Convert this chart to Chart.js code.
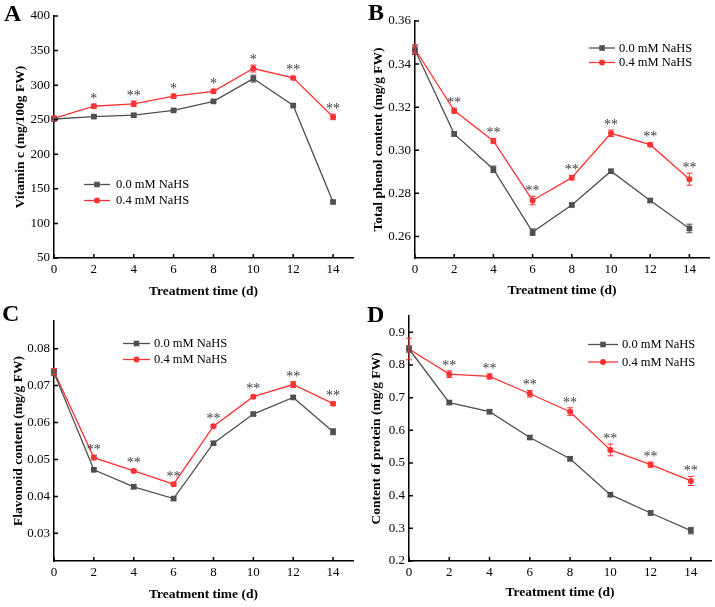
<!DOCTYPE html>
<html><head><meta charset="utf-8">
<script src="https://cdn.jsdelivr.net/npm/chart.js@4.4.1/dist/chart.umd.min.js"></script>
<style>
html,body{margin:0;padding:0;background:#fff;}
#wrap{position:relative;width:715px;height:607px;background:#fff;}
canvas{position:absolute;}
</style></head><body>
<div id="wrap">
<canvas id="cA" width="357" height="300" style="left:0px;top:0px"></canvas>
<canvas id="cB" width="358" height="300" style="left:357px;top:0px"></canvas>
<canvas id="cC" width="357" height="307" style="left:0px;top:300px"></canvas>
<canvas id="cD" width="358" height="307" style="left:357px;top:300px"></canvas>
</div>
<script>
// ---------- DATA ----------
const days = [0, 2, 4, 6, 8, 10, 12, 14];
const xTickLabels = ['0', '2', '4', '6', '8', '10', '12', '14'];
const seriesNames = ['0.0 mM NaHS', '0.4 mM NaHS'];

// A: Vitamin c
const vitControl = [251, 254.5, 256.5, 263.5, 276.5, 309.5, 270.5, 131];
const vitTreated = [252, 269.5, 273, 284, 291, 324, 310.5, 254];
const vitControlErr = [2, 2, 2, 2, 2, 5, 2, 2];
const vitTreatedErr = [3, 3, 4, 3, 3, 5, 2, 4];
const vitStars = ['', '*', '**', '*', '*', '*', '**', '**'];
const vitTicks = ['50', '100', '150', '200', '250', '300', '350', '400'];

// B: Total phenol
const phenolControl = [0.3465, 0.3076, 0.2912, 0.2620, 0.2746, 0.2903, 0.2767, 0.2637];
const phenolTreated = [0.3470, 0.3184, 0.3043, 0.2767, 0.2873, 0.3079, 0.3026, 0.2866];
const phenolControlErr = [0.002, 0.001, 0.0015, 0.0015, 0.0008, 0.0008, 0.0008, 0.002];
const phenolTreatedErr = [0.002, 0.0012, 0.0012, 0.002, 0.001, 0.0015, 0.0008, 0.0028];
const phenolStars = ['', '**', '**', '**', '**', '**', '**', '**'];
const phenolTicks = ['0.26', '0.28', '0.30', '0.32', '0.34', '0.36'];

// C: Flavonoid
const flavControl = [0.0735, 0.0472, 0.0426, 0.0394, 0.0544, 0.0623, 0.0668, 0.0575];
const flavTreated = [0.0738, 0.0505, 0.0469, 0.0433, 0.0590, 0.0670, 0.0703, 0.0651];
const flavControlErr = [0.0008, 0.0004, 0.0005, 0.0004, 0.0004, 0.0004, 0.0004, 0.0008];
const flavTreatedErr = [0.0008, 0.0006, 0.0004, 0.0004, 0.0004, 0.0004, 0.0008, 0.0004];
const flavStars = ['', '**', '**', '**', '**', '**', '**', '**'];
const flavTicks = ['0.03', '0.04', '0.05', '0.06', '0.07', '0.08'];

// D: Protein
const protControl = [0.849, 0.685, 0.657, 0.578, 0.513, 0.403, 0.347, 0.293];
const protTreated = [0.849, 0.772, 0.765, 0.712, 0.657, 0.540, 0.495, 0.445];
const protControlErr = [0.01, 0.006, 0.006, 0.006, 0.006, 0.006, 0.006, 0.01];
const protTreatedErr = [0.033, 0.01, 0.008, 0.01, 0.012, 0.018, 0.008, 0.014];
const protStars = ['', '**', '**', '**', '**', '**', '**', '**'];
const protTicks = ['0.2', '0.3', '0.4', '0.5', '0.6', '0.7', '0.8', '0.9'];

// ---------- STYLE ----------
const GRAY = '#505050';
const RED = '#ff3333';
const FONT = "'Liberation Serif', 'Times New Roman', Times, serif";

Chart.defaults.font.family = FONT;
Chart.defaults.color = '#000';

const panels = [
  { id: 'cA', letter: 'A', letterPos: [4, 21], yTitle: 'Vitamin c (mg/100g FW)',
    control: vitControl, treated: vitTreated, errC: vitControlErr, errT: vitTreatedErr, stars: vitStars,
    ticks: vitTicks, yMin: 50, yMax: 400,
    pad: { top: 16, right: 2 }, yW: 54, xH: 42, yTitlePad: 12, xTitlePad: 0,
    legend: { x1: 84, x2: 110, tx: 116, rows: [184.5, 200.5] } },
  { id: 'cB', letter: 'B', letterPos: [11, 20], yTitle: 'Total phenol content (mg/g FW)',
    control: phenolControl, treated: phenolTreated, errC: phenolControlErr, errT: phenolTreatedErr, stars: phenolStars,
    ticks: phenolTicks, yMin: 0.25, yMax: 0.36,
    pad: { top: 21, right: 6 }, yW: 58, xH: 42, yTitlePad: 13, xTitlePad: 1.5,
    legend: { x1: 232, x2: 258, tx: 262, rows: [48, 62.5] } },
  { id: 'cC', letter: 'C', letterPos: [2, 21], yTitle: 'Flavonoid content (mg/g FW)',
    control: flavControl, treated: flavTreated, errC: flavControlErr, errT: flavTreatedErr, stars: flavStars,
    ticks: flavTicks, yMin: 0.0225, yMax: 0.0875,
    pad: { top: 21, right: 4 }, yW: 54, xH: 46, yTitlePad: 10, xTitlePad: 4,
    legend: { x1: 123, x2: 150, tx: 154, rows: [43.5, 59.5] } },
  { id: 'cD', letter: 'D', letterPos: [10, 22], yTitle: 'Content of protein (mg/g FW)',
    control: protControl, treated: protTreated, errC: protControlErr, errT: protTreatedErr, stars: protStars,
    ticks: protTicks, yMin: 0.2, yMax: 0.95,
    pad: { top: 16, right: 3 }, yW: 52, xH: 46, yTitlePad: 11, xTitlePad: 6,
    legend: { x1: 231, x2: 261, tx: 265, rows: [44.5, 62] } }
];

const deco = {
  id: 'deco',
  afterDatasetsDraw(chart, args, o) {
    const ctx = chart.ctx;
    const xs = chart.scales.x, ys = chart.scales.y;
    ctx.save();
    // error bars
    const errs = [o.errC, o.errT];
    chart.data.datasets.forEach((ds, di) => {
      ctx.strokeStyle = ds.borderColor;
      ctx.lineWidth = 1;
      ds.data.forEach((pt, i) => {
        const e = errs[di][i];
        const px = xs.getPixelForValue(pt.x);
        const t = ys.getPixelForValue(pt.y + e);
        const b = ys.getPixelForValue(pt.y - e);
        ctx.beginPath();
        ctx.moveTo(px, t); ctx.lineTo(px, b);
        ctx.moveTo(px - 3, t); ctx.lineTo(px + 3, t);
        ctx.moveTo(px - 3, b); ctx.lineTo(px + 3, b);
        ctx.stroke();
      });
    });
    // significance stars
    ctx.fillStyle = '#3a3a3a';
    ctx.font = '14px ' + FONT;
    ctx.textAlign = 'center';
    ctx.textBaseline = 'alphabetic';
    const tr = chart.data.datasets[1].data;
    o.stars.forEach((s, i) => {
      if (!s) return;
      const px = xs.getPixelForValue(tr[i].x);
      const py = ys.getPixelForValue(tr[i].y);
      const et = ys.getPixelForValue(tr[i].y + o.errT[i]);
      ctx.fillText(s, px, Math.min(py - 3.5, et - 1));
    });
    ctx.restore();
  },
  afterDraw(chart, args, o) {
    const ctx = chart.ctx;
    const xs = chart.scales.x, ys = chart.scales.y;
    const ca = chart.chartArea;
    ctx.save();
    // inward ticks
    ctx.strokeStyle = '#000';
    ctx.lineWidth = 1.5;
    ctx.beginPath();
    ys.ticks.forEach(t => {
      const py = ys.getPixelForValue(t.value);
      ctx.moveTo(ca.left, py); ctx.lineTo(ca.left + 4, py);
    });
    xs.ticks.forEach(t => {
      const px = xs.getPixelForValue(t.value);
      ctx.moveTo(px, ca.bottom); ctx.lineTo(px, ca.bottom - 4);
    });
    ctx.stroke();
    // legend
    const L = o.legend;
    chart.data.datasets.forEach((ds, di) => {
      const y = L.rows[di];
      ctx.strokeStyle = ds.borderColor;
      ctx.lineWidth = 1.3;
      ctx.beginPath(); ctx.moveTo(L.x1, y); ctx.lineTo(L.x2, y); ctx.stroke();
      const mx = (L.x1 + L.x2) / 2;
      ctx.fillStyle = ds.borderColor;
      if (ds.pointStyle === 'rect') {
        ctx.fillRect(mx - 2.8, y - 2.8, 5.6, 5.6);
      } else {
        ctx.beginPath(); ctx.arc(mx, y, 3, 0, Math.PI * 2); ctx.fill();
      }
      ctx.fillStyle = '#000';
      ctx.font = '12.5px ' + FONT;
      ctx.textAlign = 'left';
      ctx.textBaseline = 'middle';
      ctx.fillText(ds.label, L.tx, y + 0.5);
    });
    // panel letter
    ctx.fillStyle = '#000';
    ctx.font = 'bold 24px ' + FONT;
    ctx.textAlign = 'left';
    ctx.textBaseline = 'alphabetic';
    ctx.fillText(o.letter, o.letterPos[0], o.letterPos[1]);
    ctx.restore();
  }
};
Chart.register(deco);

panels.forEach(p => {
  const tickVals = p.ticks.map(Number);
  new Chart(document.getElementById(p.id), {
    type: 'line',
    data: {
      datasets: [
        { label: seriesNames[0], data: days.map((d, i) => ({ x: d, y: p.control[i] })),
          borderColor: GRAY, backgroundColor: GRAY, pointBackgroundColor: GRAY, pointBorderColor: GRAY,
          borderWidth: 1.3, pointStyle: 'rect', pointRadius: 4, pointBorderWidth: 0, tension: 0, clip: false },
        { label: seriesNames[1], data: days.map((d, i) => ({ x: d, y: p.treated[i] })),
          borderColor: RED, backgroundColor: RED, pointBackgroundColor: RED, pointBorderColor: RED,
          borderWidth: 1.3, pointStyle: 'circle', pointRadius: 3, pointBorderWidth: 0, tension: 0, clip: false }
      ]
    },
    options: {
      responsive: false,
      animation: false,
      devicePixelRatio: 1,
      layout: { padding: { top: p.pad.top, right: p.pad.right, left: 0, bottom: 0 } },
      plugins: {
        legend: { display: false },
        tooltip: { enabled: false },
        deco: { errC: p.errC, errT: p.errT, stars: p.stars, legend: p.legend, letter: p.letter, letterPos: p.letterPos }
      },
      scales: {
        x: {
          type: 'linear', min: 0, max: 15,
          afterBuildTicks: s => { s.ticks = days.map(v => ({ value: v })); },
          afterFit: s => { s.height = p.xH; },
          grid: { display: false, drawTicks: false },
          border: { display: true, color: '#000', width: 1.5 },
          ticks: { autoSkip: false, maxRotation: 0, padding: 4, color: '#000',
                   font: { size: 13 }, callback: (v, i) => xTickLabels[i] },
          title: { display: true, text: 'Treatment time (d)', color: '#000',
                   font: { size: 13.5, weight: 'bold' }, padding: { top: 0, bottom: p.xTitlePad } }
        },
        y: {
          type: 'linear', min: p.yMin, max: p.yMax,
          afterBuildTicks: s => { s.ticks = tickVals.map(v => ({ value: v })); },
          afterFit: s => { s.width = p.yW; },
          grid: { display: false, drawTicks: false },
          border: { display: true, color: '#000', width: 1.5 },
          ticks: { autoSkip: false, padding: 4, color: '#000',
                   font: { size: 13 }, callback: (v, i) => p.ticks[i] },
          title: { display: true, text: p.yTitle, color: '#000',
                   font: { size: 13.5, weight: 'bold' }, padding: { top: p.yTitlePad, bottom: 0 } }
        }
      }
    }
  });
});
</script>
</body></html>
